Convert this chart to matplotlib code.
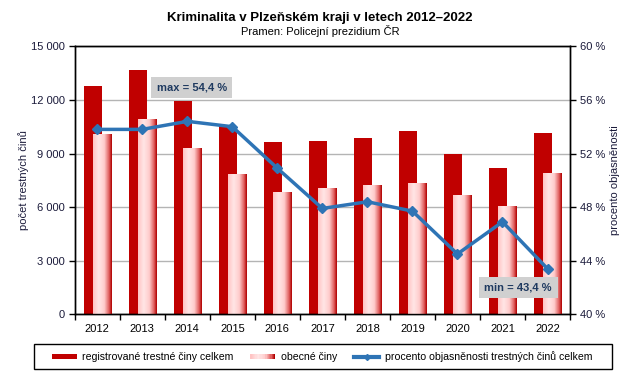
"""
Kriminalita v Plzeňském kraji 2012-2022: bars + line on twin axis.
"""

import numpy as np
import matplotlib
matplotlib.use("Agg")
import matplotlib.pyplot as plt
from matplotlib.colors import LinearSegmentedColormap
from matplotlib.patches import Rectangle
from matplotlib.lines import Line2D
from matplotlib.legend_handler import HandlerBase

years = ["2012", "2013", "2014", "2015", "2016", "2017",
         "2018", "2019", "2020", "2021", "2022"]
registrovane = [12800, 13700, 11950, 10550, 9650, 9700,
                9870, 10260, 8970, 8190, 10150]
obecne = [10030, 10870, 9250, 7790, 6790, 7010,
          7180, 7290, 6640, 6000, 7850]
objasnenost = [53.8, 53.8, 54.4, 54.0, 50.9, 47.9,
               48.4, 47.7, 44.5, 46.9, 43.4]

RED = "#c00000"
BLUE = "#2e74b5"
TXT = "#1a1a3a"

grad = LinearSegmentedColormap.from_list(
    "pinkred", [(0.0, "#ffc4c4"), (0.3, "#ffe6e6"), (0.6, "#ffcccc"),
                (0.85, "#e06060"), (1.0, "#b00000")])


def fmt_thousands(v, _pos=None):
    return f"{int(v):,}".replace(",", " ")


class GradientHandler(HandlerBase):
    def create_artists(self, legend, orig_handle, xdescent, ydescent,
                       width, height, fontsize, trans):
        n = 20
        arts = []
        for i in range(n):
            r = Rectangle((-xdescent + width * i / n, -ydescent),
                          width / n, height,
                          facecolor=grad(i / (n - 1)), edgecolor="none",
                          transform=trans)
            arts.append(r)
        return arts


plt.rcParams["font.family"] = ["Liberation Sans", "DejaVu Sans"]

fig = plt.figure(figsize=(6.43, 3.78), dpi=100)
ax = fig.add_axes([0.1162, 0.1685, 0.7703, 0.709])
ax2 = ax.twinx()

x = np.arange(len(years))
w = 0.4
off = 0.095

ax.bar(x - off, registrovane, width=w, color=RED, zorder=2)
pink = ax.bar(x + off, obecne, width=w, color="none", zorder=3)
gimg = np.linspace(0, 1, 64).reshape(1, -1)
for b in pink:
    ax.imshow(gimg, cmap=grad, aspect="auto", zorder=3,
              extent=[b.get_x(), b.get_x() + b.get_width(), 0, b.get_height()])

ax.set_xlim(-0.5, len(years) - 0.5)
ax.set_ylim(0, 15000)
ax.set_yticks(np.arange(0, 15001, 3000))
ax.yaxis.set_major_formatter(fmt_thousands)
ax.grid(axis="y", color="#b4b4b4", linewidth=1, zorder=0)
ax.set_axisbelow(True)

ax.set_xticks(x)
ax.set_xticklabels(years)
ax.set_xticks(np.arange(-0.5, len(years)), minor=True)
ax.tick_params(axis="x", which="major", length=0, labelsize=8,
               labelcolor="black", pad=7)
ax.tick_params(axis="x", which="minor", length=4, width=1, direction="out")
ax.tick_params(axis="y", length=4, width=1, direction="out",
               labelsize=8, labelcolor=TXT, pad=3)
ax.set_ylabel("počet trestných činů", fontsize=8, color=TXT, labelpad=1.7)

ax2.plot(x, objasnenost, color=BLUE, linewidth=2.5, marker="D",
         markersize=5, zorder=5)
ax2.set_ylim(40, 60)
ax2.set_yticks(np.arange(40, 61, 4))
ax2.set_yticklabels([f"{v} %" for v in range(40, 61, 4)])
ax2.tick_params(axis="y", length=4, width=1, direction="out",
                labelsize=8, labelcolor=TXT, pad=3)
ax2.set_ylabel("procento objasněnosti", fontsize=8, color=TXT,
               labelpad=3.7)

for s in list(ax.spines.values()) + list(ax2.spines.values()):
    s.set_linewidth(1)
    s.set_color("black")

imax = int(np.argmax(objasnenost))
imin = int(np.argmin(objasnenost))
box = dict(boxstyle="square,pad=0.5", facecolor="#d0d0d0", edgecolor="none")
ax2.text(imax + 0.1, 56.9, f"max = {objasnenost[imax]:.1f} %".replace(".", ","),
         ha="center", va="center", fontsize=8, fontweight="bold",
         color="#1f3a60", bbox=box, zorder=6)
ax2.text(imin - 0.65, 42.0, f"min = {objasnenost[imin]:.1f} %".replace(".", ","),
         ha="center", va="center", fontsize=8, fontweight="bold",
         color="#1f3a60", bbox=box, zorder=6)

fig.text(0.498, 0.953, "Kriminalita v Plzeňském kraji v letech 2012–2022",
         ha="center", va="center", fontsize=9.5, fontweight="bold")
fig.text(0.498, 0.917, "Pramen: Policejní prezidium ČR",
         ha="center", va="center", fontsize=8)

# legend frame drawn by hand, legend itself without frame
fig.add_artist(Rectangle((34.3 / 643, 1 - 369 / 378), 577.4 / 643, 24.7 / 378,
                         transform=fig.transFigure, facecolor="white",
                         edgecolor="black", linewidth=1))
h_red = Rectangle((0, 0), 1, 1, facecolor=RED)
h_pink = Rectangle((0, 0), 1, 1, facecolor="#ffcccc")
h_line = Line2D([], [], color=BLUE, linewidth=3, marker="D", markersize=3)
leg = fig.legend([h_red, h_pink, h_line],
                 ["registrované trestné činy celkem", "obecné činy",
                  "procento objasněnosti trestných činů celkem"],
                 handler_map={h_pink: GradientHandler()},
                 loc="center left", ncol=3, fontsize=7.6,
                 bbox_to_anchor=(51.7 / 643, 1 - 356.7 / 378),
                 frameon=False, borderpad=0, borderaxespad=0,
                 handlelength=2.37, handleheight=0.38, handletextpad=0.52,
                 columnspacing=1.6)

fig.savefig("out.png", dpi=100)
